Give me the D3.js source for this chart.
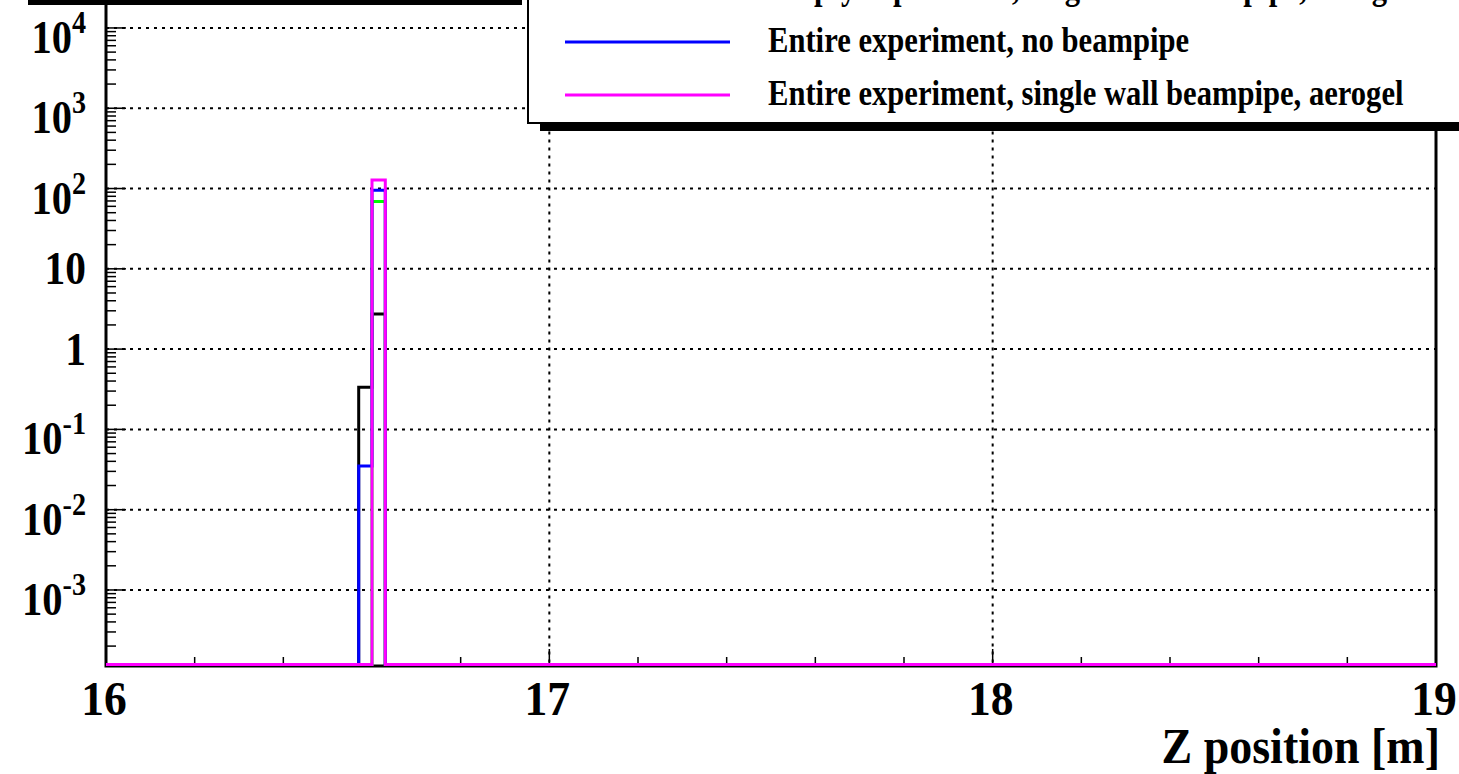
<!DOCTYPE html>
<html>
<head>
<meta charset="utf-8">
<script src="https://cdn.jsdelivr.net/npm/d3@7"></script>
<style>
  html, body { margin: 0; padding: 0; background: #fff; }
  svg { display: block; }
  text { font-family: "Liberation Serif", "DejaVu Serif", serif; font-weight: bold; }
</style>
</head>
<body>
<svg id="chart" width="1459" height="774"></svg>
<script>
// ---------------- data ----------------
const binStart = 16.0;          // histogram lower edge [m]
const binWidth = 0.03;          // bin width [m]
const binCount = 100;           // number of bins (16 -> 19 m)

// non-empty bins: lower edge of bin [m] and content
const blackBinZ   = [16.57, 16.60];
const blackValues = [0.336, 2.73];
const greenBinZ   = [16.60];
const greenValues = [69];
const blueBinZ    = [16.57, 16.60];
const blueValues  = [0.035, 95];
const magentaBinZ   = [16.60];
const magentaValues = [128];

const seriesNames = [
  "Empty experiment, no beampipe",
  "Empty experiment, single wall beampipe, aerogel",
  "Entire experiment, no beampipe",
  "Entire experiment, single wall beampipe, aerogel"
];
const seriesColors = ["#000000", "#00ff00", "#0000ff", "#ff00ff"];

const xTickValues = [16, 17, 18, 19];
const xTickLabels = ["16", "17", "18", "19"];
const yDecades = [-3, -2, -1, 0, 1, 2, 3, 4];
const yTickLabels = [["10", "-3"], ["10", "-2"], ["10", "-1"], ["1", ""], ["10", ""], ["10", "2"], ["10", "3"], ["10", "4"]];
const xTitle = "Z position [m]";

// ---------------- layout ----------------
const yMin = 1.13e-4, yMax = 4e4;
const plotLeft = 106, plotRight = 1436, plotBottom = 666;
const decadePx = 80.29;
const plotTop = plotBottom - decadePx * (Math.log10(yMax) - Math.log10(yMin));

const svg = d3.select("#chart");
svg.append("rect").attr("width", 1459).attr("height", 774).attr("fill", "#fff");

const x = d3.scaleLinear().domain([16, 19]).range([plotLeft, plotRight]);
const y = d3.scaleLog().domain([yMin, yMax]).range([plotBottom, plotTop]);

function addText(g, tx, ty, str, size, anchor, k) {
  const t = g.append("text")
    .attr("transform", `translate(${tx},${ty}) scale(${k || 0.86},1)`)
    .attr("font-size", size)
    .attr("text-anchor", anchor || "start");
  return t.text(str);
}

// ---------------- grid ----------------
const grid = svg.append("g").attr("stroke", "#000").attr("stroke-width", 2).attr("stroke-dasharray", "3,5");
yDecades.forEach(d => {
  const yy = y(Math.pow(10, d));
  grid.append("line").attr("x1", plotLeft).attr("x2", plotRight).attr("y1", yy).attr("y2", yy);
});
xTickValues.slice(1, -1).forEach(v => {
  grid.append("line").attr("x1", x(v)).attr("x2", x(v)).attr("y1", plotTop).attr("y2", plotBottom);
});

// ---------------- frame ----------------
const frame = svg.append("g").attr("stroke", "#000").attr("stroke-width", 3).attr("fill", "none");
frame.append("rect").attr("x", plotLeft).attr("y", plotTop).attr("width", plotRight - plotLeft).attr("height", plotBottom - plotTop);

// ---------------- ticks ----------------
const ticks = svg.append("g").attr("stroke", "#000").attr("stroke-width", 1.5);
for (let d = -4; d <= 5; d++) {
  for (let m = 1; m <= 9; m++) {
    const v = m * Math.pow(10, d);
    if (v < yMin || v > yMax) continue;
    const yy = y(v);
    const len = m === 1 ? 20 : 10;
    ticks.append("line").attr("x1", plotLeft).attr("x2", plotLeft + len).attr("y1", yy).attr("y2", yy);
  }
}
for (let i = 0; i <= 15; i++) {
  const v = 16 + i * 0.2;
  const major = i % 5 === 0;
  const len = major ? 17 : 9;
  ticks.append("line").attr("x1", x(v)).attr("x2", x(v)).attr("y1", plotBottom).attr("y2", plotBottom - len);
}

// ---------------- histograms ----------------
const zeroLevel = y(yMin) - 1.5;
function histPoints(binZ, values) {
  const pts = [];
  for (let i = 0; i < binCount; i++) {
    const lo = binStart + i * binWidth;
    const hi = lo + binWidth;
    let v = 0;
    binZ.forEach((z, j) => { if (Math.abs(z - lo) < binWidth / 2) v = values[j]; });
    const yy = v > 0 ? y(v) : zeroLevel;
    pts.push([x(lo), yy], [x(hi), yy]);
  }
  return pts;
}
const line = d3.line();
const series = [
  [blackBinZ, blackValues],
  [greenBinZ, greenValues],
  [blueBinZ, blueValues],
  [magentaBinZ, magentaValues]
];
const hg = svg.append("g").attr("fill", "none").attr("stroke-width", 3);
series.forEach((s, i) => {
  hg.append("path").attr("d", line(histPoints(s[0], s[1]))).attr("stroke", seriesColors[i]);
});

// ---------------- axis labels ----------------
const labels = svg.append("g").attr("fill", "#000");
xTickValues.forEach((v, i) => addText(labels, x(v) - 2, 715, xTickLabels[i], 48, "middle", 0.95));
yDecades.forEach((d, i) => {
  const yy = y(Math.pow(10, d));
  const [base, exp] = yTickLabels[i];
  if (exp) {
    const t = labels.append("text")
      .attr("transform", `translate(86,${yy + 25}) scale(0.88,1)`)
      .attr("font-size", 46).attr("text-anchor", "end");
    t.append("tspan").text(base);
    t.append("tspan").attr("font-size", 32).attr("dy", -20).text(exp);
  } else {
    addText(labels, 86, yy + 15.5, base, 46, "end", 0.9);
  }
});
addText(labels, 1440, 763, xTitle, 50, "end", 0.92);

// ---------------- top-left box shadow ----------------
svg.append("rect").attr("x", 28).attr("y", -10).attr("width", 494).attr("height", 15).attr("fill", "#000");

// ---------------- legend ----------------
const legX = 528, legBottom = 123;
const leg = svg.append("g");
leg.append("rect").attr("x", legX + 12).attr("y", legBottom).attr("width", 1000).attr("height", 8).attr("fill", "#000");
leg.append("rect").attr("x", legX).attr("y", -200).attr("width", 1000).attr("height", legBottom + 200)
  .attr("fill", "#fff").attr("stroke", "#000").attr("stroke-width", 2);
const rowY = [-64, -11, 42, 95];
seriesNames.forEach((name, i) => {
  leg.append("line").attr("x1", 565).attr("x2", 730).attr("y1", rowY[i]).attr("y2", rowY[i])
    .attr("stroke", seriesColors[i]).attr("stroke-width", 3);
  addText(leg, 768, rowY[i] + 9.5, name, 35.6, "start", 0.86);
});
</script>
</body>
</html>
